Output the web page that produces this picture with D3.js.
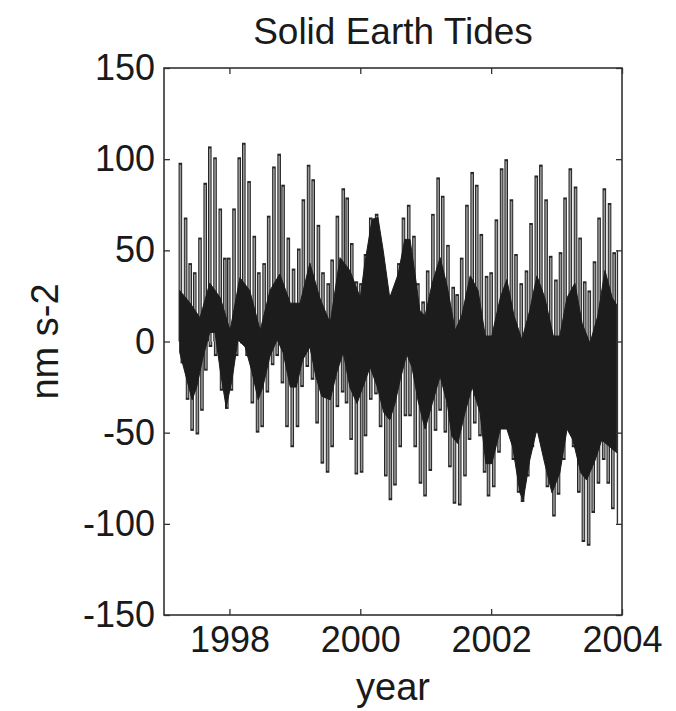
<!DOCTYPE html>
<html>
<head>
<meta charset="utf-8">
<script src="https://cdn.jsdelivr.net/npm/d3@7"></script>
<style>
	body { margin: 0; background: #fff; }
	text { font-family: "Liberation Sans", Arial, Helvetica, sans-serif; fill: #1a1a1a; }
</style>
</head>
<body>
<div id="chart-area"></div>
<script>

// ---- DATA ----

// tick labels
let xTicks = [1998, 2000, 2002, 2004];
let yTicks = [-150, -100, -50, 0, 50, 100, 150];

// tops of the upward spikes (year, nm s-2)
let upYears = [1997.25, 1997.33, 1997.40, 1997.47, 1997.55, 1997.63, 1997.70, 1997.78, 1997.86, 1997.93,
	1997.99, 1998.07, 1998.15, 1998.22, 1998.30, 1998.38, 1998.45, 1998.53, 1998.60, 1998.68,
	1998.76, 1998.82, 1998.90, 1998.98, 1999.06, 1999.13, 1999.21, 1999.28, 1999.36, 1999.43,
	1999.51, 1999.57, 1999.65, 1999.74, 1999.80, 1999.87, 1999.94, 2000.01, 2000.08, 2000.16,
	2000.25, 2000.32, 2000.40, 2000.48, 2000.59, 2000.66, 2000.74, 2000.82, 2000.88, 2000.96,
	2001.03, 2001.11, 2001.19, 2001.26, 2001.34, 2001.42, 2001.48, 2001.55, 2001.63, 2001.71,
	2001.78, 2001.85, 2001.93, 2002.00, 2002.08, 2002.16, 2002.23, 2002.31, 2002.38, 2002.46,
	2002.54, 2002.61, 2002.69, 2002.76, 2002.84, 2002.91, 2002.99, 2003.06, 2003.13, 2003.21,
	2003.29, 2003.36, 2003.43, 2003.50, 2003.58, 2003.65, 2003.73, 2003.81, 2003.88];
let upValues = [98, 68, 43, 38, 57, 87, 107, 101, 73, 46,
	46, 73, 101, 109, 88, 58, 38, 43, 69, 96,
	103, 86, 57, 40, 51, 78, 97, 89, 64, 38,
	32, 45, 69, 84, 79, 54, 33, 32, 48, 68,
	70, 51, 28, 25, 43, 68, 75, 58, 32, 22,
	39, 70, 90, 80, 53, 30, 26, 46, 75, 93,
	86, 59, 36, 38, 67, 95, 100, 78, 48, 32,
	39, 65, 91, 97, 78, 47, 34, 49, 79, 95,
	85, 57, 33, 28, 44, 68, 84, 76, 49];

// bottoms of the downward spikes
let downYears = [1997.28, 1997.36, 1997.43, 1997.51, 1997.58, 1997.64, 1997.71, 1997.79, 1997.88, 1997.96,
	1998.03, 1998.11, 1998.19, 1998.27, 1998.35, 1998.43, 1998.50, 1998.58, 1998.66, 1998.73,
	1998.81, 1998.88, 1998.96, 1999.04, 1999.11, 1999.19, 1999.27, 1999.34, 1999.42, 1999.50,
	1999.57, 1999.65, 1999.73, 1999.79, 1999.86, 1999.94, 2000.02, 2000.08, 2000.16, 2000.24,
	2000.31, 2000.39, 2000.46, 2000.53, 2000.61, 2000.69, 2000.76, 2000.84, 2000.92, 2000.99,
	2001.07, 2001.15, 2001.22, 2001.30, 2001.37, 2001.44, 2001.52, 2001.60, 2001.67, 2001.75,
	2001.83, 2001.90, 2001.96, 2002.04, 2002.12, 2002.19, 2002.27, 2002.34, 2002.42, 2002.48,
	2002.56, 2002.63, 2002.71, 2002.79, 2002.86, 2002.96, 2003.03, 2003.11, 2003.18, 2003.26,
	2003.34, 2003.41, 2003.49, 2003.56, 2003.64, 2003.72, 2003.79, 2003.86];
let downValues = [-12, -32, -49, -51, -38, -16, -3, -8, -27, -37,
	-27, -8, -1, -8, -34, -50, -47, -28, -13, -8,
	-23, -47, -58, -47, -25, -14, -21, -45, -67, -72,
	-58, -36, -28, -34, -54, -73, -72, -52, -32, -29,
	-47, -74, -87, -79, -58, -41, -41, -58, -78, -85,
	-71, -49, -38, -50, -69, -89, -90, -74, -54, -45,
	-52, -72, -85, -80, -61, -47, -49, -65, -83, -88,
	-74, -58, -50, -58, -80, -96, -84, -65, -47, -58,
	-83, -110, -112, -94, -78, -65, -78, -92];

// upper edge of the dense dark band
let bandTopYears = [1997.24, 1997.40, 1997.55, 1997.70, 1997.86, 1998.01, 1998.16, 1998.31, 1998.47, 1998.62,
	1998.77, 1998.93, 1999.08, 1999.23, 1999.38, 1999.54, 1999.69, 1999.84, 2000.00, 2000.07,
	2000.18, 2000.27, 2000.35, 2000.45, 2000.58, 2000.68, 2000.76, 2000.84, 2000.91, 2000.99,
	2001.10, 2001.22, 2001.33, 2001.45, 2001.55, 2001.68, 2001.80, 2001.91, 2002.01, 2002.14,
	2002.24, 2002.35, 2002.47, 2002.59, 2002.70, 2002.82, 2002.95, 2003.05, 2003.16, 2003.28,
	2003.39, 2003.51, 2003.63, 2003.74, 2003.85, 2003.92];
let bandTop = [28, 21, 13, 32, 24, 6, 35, 28, 6, 28,
	37, 21, 21, 43, 24, 10, 46, 39, 24, 43,
	67, 68, 50, 24, 37, 56, 56, 36, 17, 14,
	32, 46, 30, 6, 14, 36, 28, 3, 3, 24,
	34, 14, 1, 17, 36, 24, 3, 3, 24, 32,
	10, -1, 14, 39, 24, 20];

// lower edge of the dense dark band
let bandBottomYears = [1997.24, 1997.35, 1997.43, 1997.50, 1997.60, 1997.70, 1997.78, 1997.86, 1997.95, 1998.04,
	1998.13, 1998.24, 1998.34, 1998.44, 1998.51, 1998.62, 1998.73, 1998.82, 1998.93, 1999.02,
	1999.12, 1999.23, 1999.32, 1999.41, 1999.54, 1999.64, 1999.74, 1999.84, 1999.95, 2000.04,
	2000.15, 2000.26, 2000.36, 2000.45, 2000.53, 2000.61, 2000.71, 2000.79, 2000.88, 2000.99,
	2001.10, 2001.22, 2001.33, 2001.40, 2001.49, 2001.60, 2001.71, 2001.83, 2001.92, 2002.01,
	2002.14, 2002.24, 2002.33, 2002.44, 2002.49, 2002.59, 2002.70, 2002.82, 2002.93, 2003.05,
	2003.16, 2003.25, 2003.37, 2003.46, 2003.59, 2003.69, 2003.82, 2003.92];
let bandBottom = [-6, -21, -32, -25, -8, 5, 5, -16, -36, -21,
	1, -3, -16, -32, -25, -8, 1, -6, -25, -25,
	-10, -3, -19, -30, -32, -17, -6, -25, -34, -25,
	-14, -25, -39, -43, -34, -21, -7, -14, -32, -48,
	-34, -19, -34, -52, -56, -39, -25, -39, -67, -67,
	-48, -48, -58, -83, -87, -65, -48, -67, -83, -72,
	-48, -54, -72, -76, -65, -54, -58, -61];

// last sample of the record, drops to the right edge
let endYears = [2003.93, 2003.93];
let endValues = [50, -100];


// ---- CHART AREA ----

let margin = {top: 68, right: 54, bottom: 96, left: 164},
	width = 676 - margin.left - margin.right,
	height = 711 - margin.top - margin.bottom;

let svg = d3.select("#chart-area").append("svg")
	.attr("width", 676)
	.attr("height", 711);

let g = svg.append("g")
	.attr("transform", "translate(" + margin.left + "," + margin.top + ")");

let x = d3.scaleLinear().domain([1997, 2004]).range([0, width]);
let y = d3.scaleLinear().domain([-150, 150]).range([height, 0]);

let ink = "#1c1c1c";


// ---- SPIKES ----
let up = upYears.map((t, i) => ({t: t, v: upValues[i]}));
let down = downYears.map((t, i) => ({t: t, v: downValues[i]}));
let spikes = up.concat(down);

g.selectAll(".spike-edge")
	.data(spikes)
	.enter()
	.append("line")
	.attr("class", "spike-edge")
	.attr("x1", d => x(d.t))
	.attr("x2", d => x(d.t))
	.attr("y1", d => y(d.v))
	.attr("y2", y(0))
	.attr("stroke", "#262626")
	.attr("stroke-width", 3.6);

g.selectAll(".spike-core")
	.data(spikes)
	.enter()
	.append("line")
	.attr("class", "spike-core")
	.attr("x1", d => x(d.t))
	.attr("x2", d => x(d.t))
	.attr("y1", d => y(d.v) + (d.v > 0 ? 2 : -2))
	.attr("y2", y(0))
	.attr("stroke", "#979797")
	.attr("stroke-width", 1.6);


// ---- DENSE BAND ----
let bandPts = bandTopYears.map((t, i) => [t, bandTop[i]])
	.concat(bandBottomYears.map((t, i) => [t, bandBottom[i]]).reverse());

let bandLine = d3.line()
	.x(d => x(d[0]))
	.y(d => y(d[1]));

g.append("path")
	.attr("d", bandLine(bandPts) + "Z")
	.attr("fill", ink)
	.attr("stroke", ink)
	.attr("stroke-width", 1);

g.append("path")
	.attr("d", bandLine(endYears.map((t, i) => [t, endValues[i]])))
	.attr("fill", "none")
	.attr("stroke", "#333")
	.attr("stroke-width", 1.4);


// ---- AXES ----
// plain hyphen for negatives, as in the original figure
let plain = d => String(d);

let xAxis = d3.axisBottom(x).tickValues(xTicks).tickSizeInner(-6).tickSizeOuter(0).tickPadding(11)
	.tickFormat(plain);
let xTop = d3.axisTop(x).tickValues(xTicks).tickSizeInner(-6).tickSizeOuter(0).tickFormat("");
let yAxis = d3.axisLeft(y).tickValues(yTicks).tickSizeInner(-6).tickSizeOuter(0).tickPadding(9)
	.tickFormat(plain);
let yRight = d3.axisRight(y).tickValues(yTicks).tickSizeInner(-6).tickSizeOuter(0).tickFormat("");

g.append("g").attr("class", "x-axis axis")
	.attr("transform", "translate(0," + height + ")")
	.call(xAxis);
g.append("g").attr("class", "axis").call(xTop);
g.append("g").attr("class", "y-axis axis").call(yAxis);
g.append("g").attr("class", "axis")
	.attr("transform", "translate(" + width + ",0)")
	.call(yRight);

g.selectAll(".axis .domain").remove();
g.selectAll(".axis line").attr("stroke", "#333").attr("stroke-width", 1.3);
g.selectAll(".axis text")
	.style("font-size", "36px")
	.attr("fill", "#1a1a1a");

// frame
g.append("rect")
	.attr("width", width)
	.attr("height", height)
	.attr("fill", "none")
	.attr("stroke", "#333")
	.attr("stroke-width", 1.6);


// ---- TITLES ----
svg.append("text")
	.attr("x", margin.left + width / 2)
	.attr("y", 44)
	.attr("text-anchor", "middle")
	.style("font-size", "37px")
	.text("Solid Earth Tides");

svg.append("text")
	.attr("x", margin.left + width / 2)
	.attr("y", 700)
	.attr("text-anchor", "middle")
	.style("font-size", "38px")
	.text("year");

svg.append("text")
	.attr("transform", "translate(58," + (margin.top + height / 2) + ") rotate(-90)")
	.attr("text-anchor", "middle")
	.style("font-size", "38px")
	.text("nm s-2");

</script>
</body>
</html>
